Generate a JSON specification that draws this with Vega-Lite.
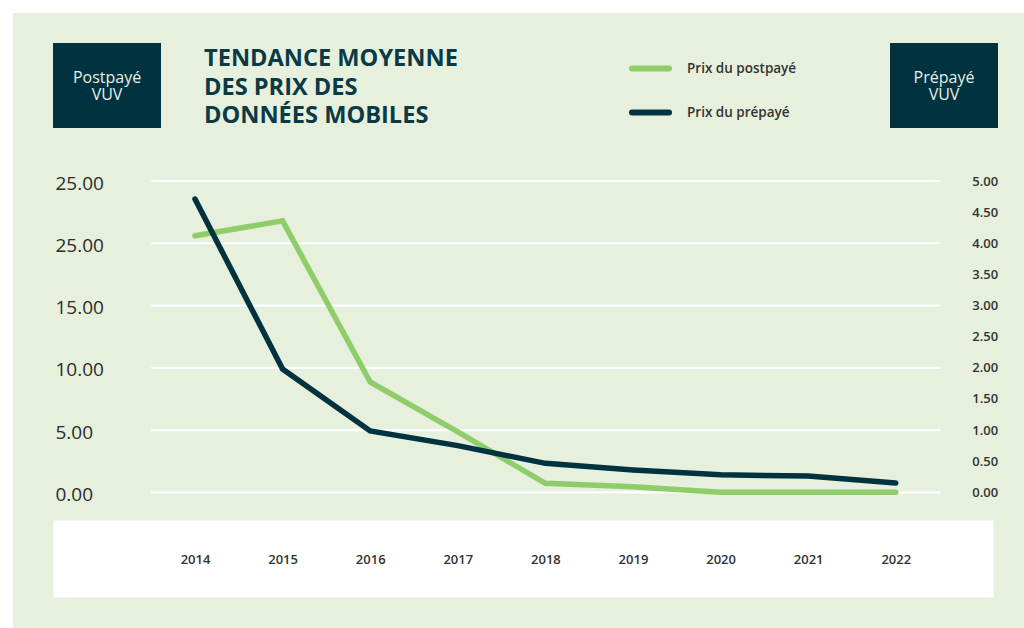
{
  "$schema": "https://vega.github.io/schema/vega-lite/v6.json",
  "background": "#e6f0dd",
  "padding": 0,
  "config": {
    "view": {"stroke": null},
    "font": "Open Sans"
  },
  "data": {"values": [{}]},
  "datasets": {
    "prix": [
      {"annee": 2014, "postpaye": 20.6, "prepaye": 4.71},
      {"annee": 2015, "postpaye": 21.8, "prepaye": 1.98},
      {"annee": 2016, "postpaye": 8.86, "prepaye": 0.985},
      {"annee": 2017, "postpaye": 4.85, "prepaye": 0.75},
      {"annee": 2018, "postpaye": 0.72, "prepaye": 0.465},
      {"annee": 2019, "postpaye": 0.45, "prepaye": 0.36},
      {"annee": 2020, "postpaye": 0.0, "prepaye": 0.28},
      {"annee": 2021, "postpaye": 0.0, "prepaye": 0.26},
      {"annee": 2022, "postpaye": 0.0, "prepaye": 0.15}
    ],
    "grille": [{"g": 0}, {"g": 5}, {"g": 10}, {"g": 15}, {"g": 20}, {"g": 25}]
  },
  "bounds": "flush",
  "spacing": 0,
  "hconcat": [
    {"width": 13, "height": 628, "view": {"fill": "#ffffff"}, "mark": {"type": "text", "text": ""}},
    {
      "bounds": "flush",
      "spacing": 0,
      "vconcat": [
        {"width": 1011, "height": 13, "view": {"fill": "#ffffff"}, "mark": {"type": "text", "text": ""}},
        {"width": 1011, "height": 30, "mark": {"type": "text", "text": ""}},
        {
          "bounds": "flush",
          "spacing": 0,
          "hconcat": [
            {"width": 40, "height": 85, "mark": {"type": "text", "text": ""}},
            {"width": 108, "height": 85, "view": {"fill": "#00323f"},
             "mark": {"type": "text", "text": ["Postpayé", "VUV"], "color": "#e8f0e6", "fontSize": 16, "lineHeight": 17, "align": "center", "baseline": "middle", "dy": -7.5}},
            {"width": 729, "height": 85,
             "title": {"text": ["TENDANCE MOYENNE", "DES PRIX DES", "DONNÉES MOBILES"], "anchor": "start", "frame": "group", "orient": "top", "offset": -4, "dx": 43, "dy": 81, "fontSize": 23.6, "fontWeight": "bold", "color": "#0b3a45", "lineHeight": 28.5, "font": "Open Sans"},
             "mark": {"type": "text", "text": ""}},
            {"width": 108, "height": 85, "view": {"fill": "#00323f"},
             "mark": {"type": "text", "text": ["Prépayé", "VUV"], "color": "#e8f0e6", "fontSize": 16, "lineHeight": 17, "align": "center", "baseline": "middle", "dy": -7.5}}
          ]
        },
        {"width": 1011, "height": 138, "mark": {"type": "text", "text": ""}},
        {
          "bounds": "flush",
          "spacing": 0,
          "resolve": {"scale": {"color": "independent"}, "legend": {"color": "independent"}},
          "hconcat": [
            {"width": 40, "height": 311.3, "mark": {"type": "text", "text": ""}},
            {
              "width": 940,
              "height": 311.3,
              "layer": [
                {
                  "data": {"name": "grille"},
                  "mark": {"type": "rule", "color": "#ffffff", "strokeWidth": 2.2},
                  "encoding": {
                    "x": {"datum": 2013.5, "type": "quantitative", "scale": {"domain": [2012.379, 2023.11], "nice": false, "zero": false},
                      "axis": {"values": [2014, 2015, 2016, 2017, 2018, 2019, 2020, 2021, 2022], "title": null, "orient": "bottom", "offset": 66.2, "domain": true, "domainColor": "#ffffff", "domainWidth": 77, "domainCap": "butt", "ticks": false, "tickSize": 0, "grid": false, "labels": false, "zindex": 0}},
                    "x2": {"datum": 2022.51},
                    "y": {"field": "g", "type": "quantitative", "scale": {"domain": [0, 25], "nice": false, "zero": false}, "axis": null}
                  }
                },
                {
                  "data": {"name": "prix"},
                  "mark": {"type": "line", "strokeWidth": 5.5, "strokeCap": "round"},
                  "encoding": {
                    "x": {"field": "annee", "type": "quantitative", "scale": {"domain": [2012.379, 2023.11], "nice": false, "zero": false},
                      "axis": {"values": [2014, 2015, 2016, 2017, 2018, 2019, 2020, 2021, 2022], "format": "d", "title": null, "orient": "bottom", "offset": 66.2, "domain": false, "ticks": false, "tickSize": 0, "grid": false, "labelPadding": 1.4, "labelBaseline": "middle", "labelFontSize": 13, "labelFontWeight": 600, "labelColor": "#333333", "labelFlush": false, "labelOverlap": false, "zindex": 1}},
                    "y": {"field": "postpaye", "type": "quantitative", "scale": {"domain": [0, 25], "nice": false, "zero": false},
                      "axis": {"values": [0, 5, 10, 15, 20, 25], "labelExpr": "datum.value == 20 ? '25.00' : format(datum.value, '.2f')", "title": null, "orient": "left", "offset": -2, "domain": false, "ticks": false, "tickSize": 0, "grid": false, "labelAlign": "left", "labelBaseline": "middle", "labelPadding": 0, "labelOffset": 2, "labelFontSize": 19, "labelFontWeight": 500, "labelColor": "#2b2b2b", "labelFlush": false, "labelOverlap": false}},
                    "color": {"datum": "Prix du postpayé", "type": "nominal",
                      "scale": {"domain": ["Prix du postpayé", "Prix du prépayé"], "range": ["#8fcd6b", "#00323f"]},
                      "legend": {"orient": "none", "legendX": 576, "legendY": -134, "direction": "vertical", "title": null, "symbolType": "stroke", "symbolSize": 1369, "symbolStrokeWidth": 6, "labelFontSize": 13.5, "labelFontWeight": 600, "labelColor": "#333333", "labelOffset": 15, "rowPadding": 10, "padding": 0, "labelLimit": 300,
                        "encode": {"symbols": {"update": {"strokeCap": {"value": "round"}}}}}}
                  }
                },
                {
                  "data": {"name": "prix"},
                  "mark": {"type": "line", "strokeWidth": 5.5, "strokeCap": "round"},
                  "encoding": {
                    "x": {"field": "annee", "type": "quantitative", "scale": {"domain": [2012.379, 2023.11], "nice": false, "zero": false}, "axis": null},
                    "y": {"field": "prepaye", "type": "quantitative", "scale": {"domain": [0, 5], "nice": false, "zero": false},
                      "axis": {"values": [0, 0.5, 1, 1.5, 2, 2.5, 3, 3.5, 4, 4.5, 5], "format": ".2f", "title": null, "orient": "right", "offset": -21.3, "domain": false, "ticks": false, "tickSize": 0, "grid": false, "labelAlign": "left", "labelBaseline": "middle", "labelPadding": 0, "labelFontSize": 13, "labelFontWeight": 600, "labelColor": "#333333", "labelFlush": false, "labelOverlap": false}},
                    "color": {"datum": "Prix du prépayé", "type": "nominal"}
                  }
                }
              ],
              "resolve": {"scale": {"y": "independent"}, "axis": {"x": "independent"}}
            }
          ]
        }
      ]
    }
  ]
}
